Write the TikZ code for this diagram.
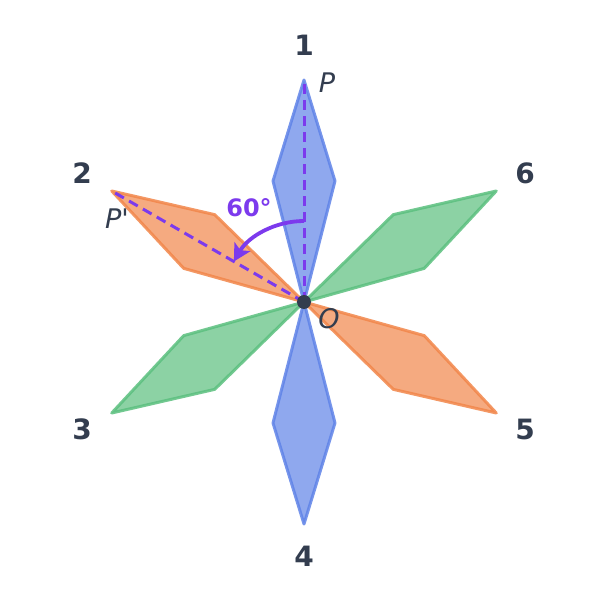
\documentclass[tikz,border=0pt]{standalone}
\usepackage{fontspec}
\usetikzlibrary{arrows.meta}
\newfontfamily\labfont{DejaVu Sans}
\definecolor{pblue}{RGB}{95,131,231}
\definecolor{porange}{RGB}{241,134,74}
\definecolor{pgreen}{RGB}{91,191,126}
\definecolor{dark}{RGB}{51,61,79}
\definecolor{purp}{RGB}{124,58,237}
\tikzset{
  petal/.style={line width=3pt, line join=round, fill opacity=0.7, draw opacity=0.85},
  numlab/.style={font=\labfont\fontsize{28}{30}\selectfont\bfseries, text=dark},
  ptlab/.style={font=\labfont\fontsize{27}{30}\selectfont\itshape, text=dark},
  dashline/.style={purp, line width=3pt, dash pattern=on 10pt off 6pt},
}
\begin{document}
\begin{tikzpicture}[x=1pt,y=1pt]
\useasboundingbox (-304,-305) rectangle (303,302);
\coordinate (O) at (0,0);
% petals
\foreach \r/\c in {120/pgreen,300/pgreen,60/porange,240/porange,0/pblue,180/pblue}{
  \draw[petal, draw=\c, fill=\c, rotate=\r] (0,0) -- (31,121) -- (0,222) -- (-31,121) -- cycle;
}
\coordinate (P) at (90:222);
\coordinate (Pp) at (150:222);
\draw[dashline] (O) -- (P);
\draw[dashline] (O) -- (Pp);
\coordinate (A0) at (90:81);
\draw[purp, line width=3.8pt, -{Stealth[length=17pt,width=18pt,inset=4pt]}] (A0) arc[start angle=90, end angle=150, radius=81];
\fill[dark] (O) circle (7);
\node[numlab] (n1) at (0,257) {1};
\node[numlab] (n2) at (-222,129) {2};
\node[numlab] (n3) at (-222,-127) {3};
\node[numlab] (n4) at (0,-254) {4};
\node[numlab] (n5) at (221,-127) {5};
\node[numlab] (n6) at (221,129) {6};
\node[ptlab] (lP) at (23,219) {P};
\node[ptlab] (lPp) at (-187,83) {P\textquotesingle};
\node[ptlab] (lO) at (25,-17) {O};
\node[font=\labfont\fontsize{24}{26}\selectfont\bfseries, text=purp] (ang) at (-55,94) {60°};
\end{tikzpicture}
\end{document}
